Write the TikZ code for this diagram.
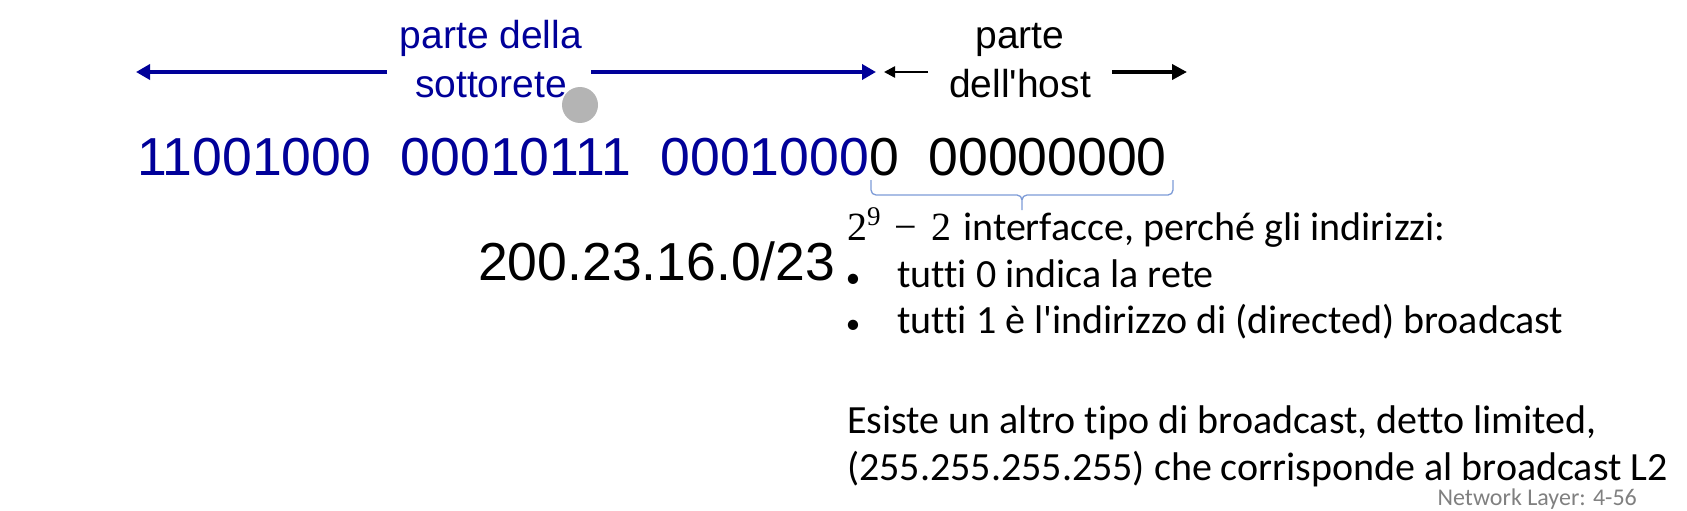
\documentclass[tikz,border=0pt]{standalone}
\usepackage{fontspec}
\setmainfont{Carlito}[Ligatures={TeX,NoCommon}]
\newfontfamily\arialfont{Liberation Sans}
\newfontfamily\mathfont{Liberation Serif}
\usetikzlibrary{arrows.meta}
\definecolor{navy1}{RGB}{0,0,153}
\definecolor{brace1}{RGB}{125,155,215}
\definecolor{gray1}{RGB}{180,180,180}
\definecolor{gray2}{RGB}{128,128,128}
\newcommand{\toplbl}{\arialfont\fontsize{39}{49}\selectfont}
\newcommand{\bitfont}{\arialfont\fontsize{53.5}{64}\selectfont}
\newcommand{\calfont}{\fontsize{40}{48}\selectfont}
\tikzset{
  subarrow/.style={navy1,line width=4,-{Triangle[length=14pt,width=15pt]}},
  hostarrow/.style={black,line width=4,-{Triangle[length=15pt,width=15pt]}},
  txt/.style={anchor=base west,inner sep=0,font=\calfont},
  dotlbl/.style={anchor=base,inner sep=0,font=\fontsize{29}{34}\selectfont}
}

\begin{document}
\begin{tikzpicture}[x=1pt,y=-1pt]
\useasboundingbox (0,0) rectangle (1687,511);

\def\ya{72}
\def\xa{853}
\def\xb{897}

% labels above the address (base = last line)
\node[align=center,font=\toplbl,text=navy1,anchor=base] (sub) at (491,97) {parte della\\sottorete};
\node[align=center,font=\toplbl,anchor=base] (host) at (1020,97) {parte\\dell\textquotesingle host};

\coordinate (subL) at (136,\ya);
\coordinate (subA) at (387,\ya);
\coordinate (subB) at (591,\ya);
\coordinate (subR) at (876,\ya);
\coordinate (hostL) at (884,\ya);
\coordinate (hostA) at (928,\ya);
\coordinate (hostB) at (1112,\ya);
\coordinate (hostR) at (1187,\ya);

\draw[subarrow] (subA) -- (subL);
\draw[subarrow] (subB) -- (subR);
\draw[hostarrow,line width=2.5,-{Triangle[length=11pt,width=11pt]}] (hostA) -- (hostL);
\draw[hostarrow] (hostB) -- (hostR);

\node[circle,fill=gray1,minimum size=36,inner sep=0] (pointer) at (580,105) {};

% the address
\node[anchor=base west,inner sep=0,font=\bitfont] (bits) at (137,175)
  {\textcolor{navy1}{11001000\ \ 00010111\ \ 0001000}0\ \ 00000000};
\node[anchor=base west,inner sep=0,font=\bitfont] (net) at (478,280) {200.23.16.0/23};

% brace under the host bits
\draw[brace1,line width=1.3,rounded corners=5]
  (871,180) -- (871,195) -- (1022,195) -- (1022,210)
  (1173,180) -- (1173,195) -- (1022,195) -- (1022,210);

\node[txt] (iface) at (847,240) {{\mathfont 2\raisebox{15pt}{\fontsize{27}{30}\selectfont 9}\hspace{14pt}−\hspace{14pt}2}\hspace{12pt}interfacce, perché gli indirizzi:};
\node[dotlbl] (dot1) at (\xa,287) {•};
\node[txt] (zero) at (\xb,287) {tutti 0 indica la rete};
\node[dotlbl] (dot2) at (\xa,333) {•};
\node[txt] (ones) at (\xb,333) {tutti 1 è l\textquotesingle indirizzo di (directed) broadcast};

\node[txt] (lim1) at (847,433) {Esiste un altro tipo di broadcast, detto limited,};
\node[txt] (lim2) at (847,480) {(255.255.255.255) che corrisponde al broadcast L2};

\node[anchor=base east,inner sep=0,font=\fontsize{24}{28}\selectfont,text=gray2] (page) at (1637,505) {Network Layer: 4-56};
\end{tikzpicture}
\end{document}
